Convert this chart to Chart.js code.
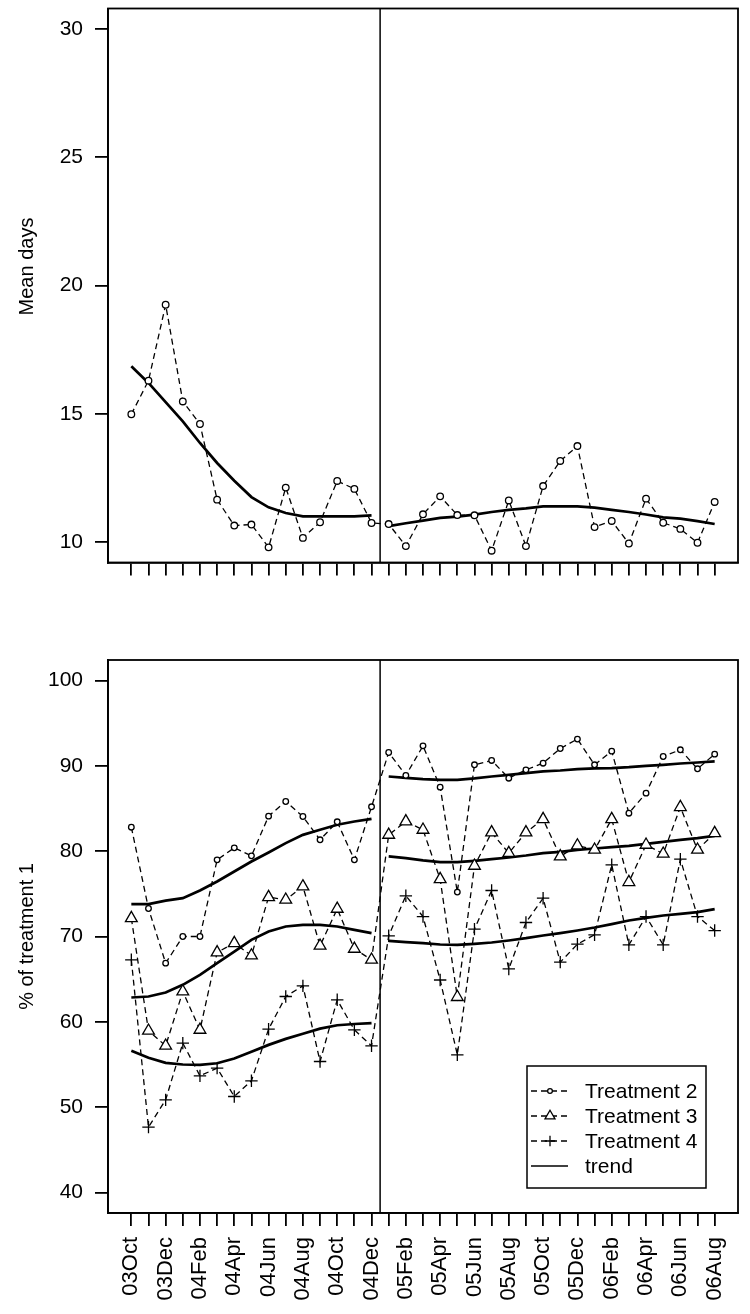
<!DOCTYPE html>
<html>
<head>
<meta charset="utf-8">
<script src="https://cdn.jsdelivr.net/npm/chart.js@4.4.1/dist/chart.umd.min.js"></script>
<style>
  html, body { margin: 0; padding: 0; background: #fff; }
  #wrap { position: relative; width: 750px; height: 1314px; }
  #topChart { position: absolute; left: 0; top: 0; }
  #bottomChart { position: absolute; left: 0; top: 600px; }
</style>
</head>
<body>
<div id="wrap">
  <canvas id="topChart" width="750" height="600"></canvas>
  <canvas id="bottomChart" width="750" height="714"></canvas>
</div>
<script>
// meses, un punto por mes
const months = ["03Oct", "03Nov", "03Dec",
  "04Jan", "04Feb", "04Mar", "04Apr", "04May", "04Jun", "04Jul", "04Aug", "04Sep", "04Oct", "04Nov", "04Dec",
  "05Jan", "05Feb", "05Mar", "05Apr", "05May", "05Jun", "05Jul", "05Aug", "05Sep", "05Oct", "05Nov", "05Dec",
  "06Jan", "06Feb", "06Mar", "06Apr", "06May", "06Jun", "06Jul", "06Aug"];

// panel de arriba
const meanDays = [14.98, 16.29, 19.25, 15.48, 14.60, 11.65, 10.64, 10.68, 9.79, 12.12, 10.16, 10.77, 12.38, 12.07, 10.74,
  10.70, 9.84, 11.08, 11.78, 11.05, 11.04, 9.66, 11.62, 9.84, 12.18, 13.16, 13.74, 10.58, 10.82, 9.94, 11.69, 10.75, 10.51, 9.97, 11.56];
const meanDaysTrend = [16.85, 16.2, 15.45, 14.7, 13.86, 13.08, 12.39, 11.75, 11.35, 11.13, 11.0, 11.0, 11.0, 11.0, 11.04,
  10.62, 10.73, 10.83, 10.94, 10.99, 11.07, 11.17, 11.25, 11.31, 11.39, 11.39, 11.39, 11.34, 11.25, 11.17, 11.07, 10.96, 10.91, 10.81, 10.70];

// panel de abajo (% of treatment 1)
const treat2 = [82.81, 73.28, 66.88, 70.0, 70.0, 78.98, 80.39, 79.45, 84.1, 85.82, 84.06, 81.33, 83.44, 78.98, 85.2,
  91.56, 88.87, 92.34, 87.5, 75.2, 90.12, 90.63, 88.55, 89.53, 90.31, 92.03, 93.13, 90.12, 91.72, 84.45, 86.8, 91.09, 91.88, 89.65, 91.37];
const trend2 = [73.79, 73.8, 74.2, 74.49, 75.39, 76.45, 77.62, 78.79, 79.84, 80.94, 81.91, 82.5, 83.09, 83.48, 83.79,
  88.75, 88.59, 88.44, 88.36, 88.36, 88.52, 88.75, 88.95, 89.14, 89.34, 89.45, 89.61, 89.69, 89.73, 89.84, 90.0, 90.12, 90.27, 90.39, 90.51];
const treat3 = [72.15, 58.95, 57.19, 63.55, 59.06, 68.13, 69.22, 67.77, 74.61, 74.3, 75.86, 68.91, 73.24, 68.55, 67.27,
  81.91, 83.48, 82.5, 76.72, 62.9, 78.28, 82.19, 79.77, 82.19, 83.75, 79.38, 80.66, 80.16, 83.75, 76.37, 80.74, 79.69, 85.16, 80.16, 82.11];
const trend3 = [62.85, 62.97, 63.44, 64.34, 65.51, 66.88, 68.24, 69.61, 70.59, 71.17, 71.37, 71.37, 71.17, 70.78, 70.39,
  79.38, 79.18, 78.91, 78.71, 78.71, 78.87, 79.06, 79.26, 79.49, 79.77, 79.92, 80.16, 80.31, 80.47, 80.63, 80.86, 81.09, 81.33, 81.52, 81.8];
const treat4 = [67.27, 47.66, 50.86, 57.5, 53.67, 54.58, 51.25, 53.09, 59.14, 62.97, 64.22, 55.35, 62.58, 59.06, 57.19,
  70.08, 74.77, 72.34, 64.9, 56.14, 70.86, 75.39, 66.2, 71.64, 74.49, 67.0, 69.1, 70.2, 78.4, 69.02, 72.34, 69.02, 79.06, 72.34, 70.7];
const trend4 = [56.6, 55.8, 55.2, 55.0, 54.96, 55.15, 55.7, 56.5, 57.3, 58.0, 58.6, 59.2, 59.6, 59.75, 59.85,
  69.49, 69.34, 69.22, 69.06, 69.02, 69.14, 69.3, 69.53, 69.8, 70.12, 70.39, 70.7, 71.05, 71.45, 71.88, 72.19, 72.46, 72.66, 72.85, 73.2];

const topTicks = [10, 15, 20, 25, 30];
const bottomTicks = [40, 50, 60, 70, 80, 90, 100];

const breakIndex = 14; // ultimo mes antes del corte (04Dec)
const breakAt = 14.5;

Chart.defaults.font.family = "'Liberation Sans', Arial, Helvetica, sans-serif";
Chart.defaults.color = "#000";

function toPoints(values) {
  return values.map((v, i) => ({ x: i, y: v }));
}

function seriesDataset(label, values, pointStyle, radius) {
  return {
    label: label,
    data: toPoints(values),
    borderColor: "#000",
    borderWidth: 1.3,
    borderDash: [6, 4],
    pointStyle: pointStyle,
    pointRadius: radius,
    pointBorderWidth: 1.3,
    pointBackgroundColor: "#fff",
    pointBorderColor: "#000",
    fill: false,
    tension: 0,
  };
}

function trendDataset(values) {
  return {
    label: "trend",
    isTrend: true,
    data: toPoints(values),
    borderColor: "#000",
    borderWidth: 2.7,
    pointRadius: 0,
    fill: false,
    tension: 0,
    segment: {
      borderColor: (ctx) => (ctx.p0DataIndex === breakIndex ? "rgba(0,0,0,0)" : "#000"),
    },
  };
}

function xScale(showLabels, axisHeight) {
  return {
    type: "linear",
    min: -1.36,
    max: months.length - 1 + 1.36,
    afterBuildTicks: (scale) => {
      scale.ticks = months.map((m, i) => ({ value: i }));
    },
    afterFit: (scale) => {
      scale.height = axisHeight;
      scale.paddingLeft = 0;
      scale.paddingRight = 0;
    },
    grid: { drawOnChartArea: false, drawTicks: true, tickLength: 13, color: "#000", lineWidth: 1.8 },
    border: { display: true, color: "#000", width: 1.8 },
    ticks: {
      autoSkip: false,
      maxRotation: 90,
      minRotation: 90,
      padding: 11,
      font: { size: 22 },
      callback: (v) => (showLabels && v % 2 === 0 ? months[v] : ""),
    },
  };
}

function yScale(min, max, ticks) {
  return {
    min: min,
    max: max,
    afterBuildTicks: (scale) => {
      scale.ticks = ticks.map((v) => ({ value: v }));
    },
    afterFit: (scale) => {
      scale.width = 108;
      scale.paddingTop = 0;
      scale.paddingBottom = 0;
    },
    grid: { drawOnChartArea: false, drawTicks: true, tickLength: 13, color: "#000", lineWidth: 1.8 },
    border: { display: true, color: "#000", width: 1.8 },
    ticks: { padding: 12, font: { size: 21 } },
  };
}

// marco alrededor del area y linea vertical del corte
const framePlugin = {
  id: "frame",
  afterDatasetsDraw(chart) {
    const { ctx, chartArea: a, scales } = chart;
    ctx.save();
    ctx.strokeStyle = "#000";
    ctx.lineWidth = 1.8;
    ctx.strokeRect(a.left, a.top, a.right - a.left, a.bottom - a.top);
    const bx = scales.x.getPixelForValue(breakAt);
    ctx.lineWidth = 1.5;
    ctx.beginPath();
    ctx.moveTo(bx, a.top);
    ctx.lineTo(bx, a.bottom);
    ctx.stroke();
    ctx.restore();
  },
};

// titulo del eje y (vertical), con desplazamiento opcional
const yTitle = {
  id: "yTitle",
  afterDraw(chart, args, opts) {
    if (!opts.text) return;
    const { ctx, chartArea: a } = chart;
    ctx.save();
    ctx.translate(opts.x, (a.top + a.bottom) / 2 + (opts.shift || 0));
    ctx.rotate(-Math.PI / 2);
    ctx.font = "20px 'Liberation Sans', Arial, sans-serif";
    ctx.fillStyle = "#000";
    ctx.textAlign = "center";
    ctx.textBaseline = "middle";
    ctx.fillText(opts.text, 0, 0);
    ctx.restore();
  },
};

// leyenda con caja, abajo a la derecha
const boxLegend = {
  id: "boxLegend",
  afterDraw(chart, args, opts) {
    if (!opts.display) return;
    const { ctx, chartArea: a } = chart;
    const items = chart.data.datasets.filter((d) => !d.isTrend);
    const rowH = 25;
    const w = 179;
    const h = (items.length + 1) * rowH + 22;
    const right = a.right - 32;
    const bottom = a.bottom - 25;
    const left = right - w;
    const top = bottom - h;

    ctx.save();
    ctx.fillStyle = "#fff";
    ctx.fillRect(left, top, w, h);
    ctx.strokeStyle = "#000";
    ctx.lineWidth = 1.5;
    ctx.strokeRect(left, top, w, h);

    ctx.font = "21px 'Liberation Sans', Arial, sans-serif";
    ctx.textBaseline = "middle";
    ctx.textAlign = "left";

    const drawPoint = Chart.helpers && Chart.helpers.drawPoint;
    items.forEach((ds, i) => {
      const y = top + rowH * (i + 1);
      ctx.setLineDash(ds.borderDash);
      ctx.lineWidth = ds.borderWidth;
      ctx.beginPath();
      ctx.moveTo(left + 4, y);
      ctx.lineTo(left + 41, y);
      ctx.stroke();
      ctx.setLineDash([]);
      if (drawPoint) {
        ctx.fillStyle = "#fff";
        ctx.strokeStyle = "#000";
        ctx.lineWidth = ds.pointBorderWidth;
        drawPoint(ctx, { pointStyle: ds.pointStyle, radius: ds.pointRadius * 0.85, borderWidth: ds.pointBorderWidth, rotation: 0 }, left + 23, y);
      }
      ctx.fillStyle = "#000";
      ctx.fillText(ds.label, left + 58, y + 1);
    });
    const ty = top + rowH * (items.length + 1);
    ctx.lineWidth = 1.5;
    ctx.beginPath();
    ctx.moveTo(left + 4, ty);
    ctx.lineTo(left + 41, ty);
    ctx.stroke();
    ctx.fillStyle = "#000";
    ctx.fillText("trend", left + 58, ty + 1);
    ctx.restore();
  },
};

const baseOptions = {
  responsive: false,
  animation: false,
  devicePixelRatio: 1,
  events: [],
};

new Chart(document.getElementById("topChart"), {
  type: "line",
  data: {
    datasets: [seriesDataset("Mean days", meanDays, "circle", 3.3), trendDataset(meanDaysTrend)],
  },
  options: {
    ...baseOptions,
    layout: { padding: { top: 8.5, right: 12, left: 0, bottom: 0 } },
    scales: {
      x: xScale(false, 37.5),
      y: yScale(9.2, 30.8, topTicks),
    },
    plugins: {
      legend: { display: false },
      tooltip: { enabled: false },
      boxLegend: { display: false },
      yTitle: { text: "Mean days", x: 27, shift: -19 },
    },
  },
  plugins: [framePlugin, boxLegend, yTitle],
});

new Chart(document.getElementById("bottomChart"), {
  type: "line",
  data: {
    datasets: [
      seriesDataset("Treatment 2", treat2, "circle", 2.8),
      seriesDataset("Treatment 3", treat3, "triangle", 6.8),
      seriesDataset("Treatment 4", treat4, "cross", 6.2),
      trendDataset(trend2),
      trendDataset(trend3),
      trendDataset(trend4),
    ],
  },
  options: {
    ...baseOptions,
    layout: { padding: { top: 60, right: 12, left: 0, bottom: 0 } },
    scales: {
      x: xScale(true, 101),
      y: yScale(37.6, 102.4, bottomTicks),
    },
    plugins: {
      legend: { display: false },
      tooltip: { enabled: false },
      boxLegend: { display: true },
      yTitle: { text: "% of treatment 1", x: 27, shift: 0 },
    },
  },
  plugins: [framePlugin, boxLegend, yTitle],
});
</script>
</body>
</html>
